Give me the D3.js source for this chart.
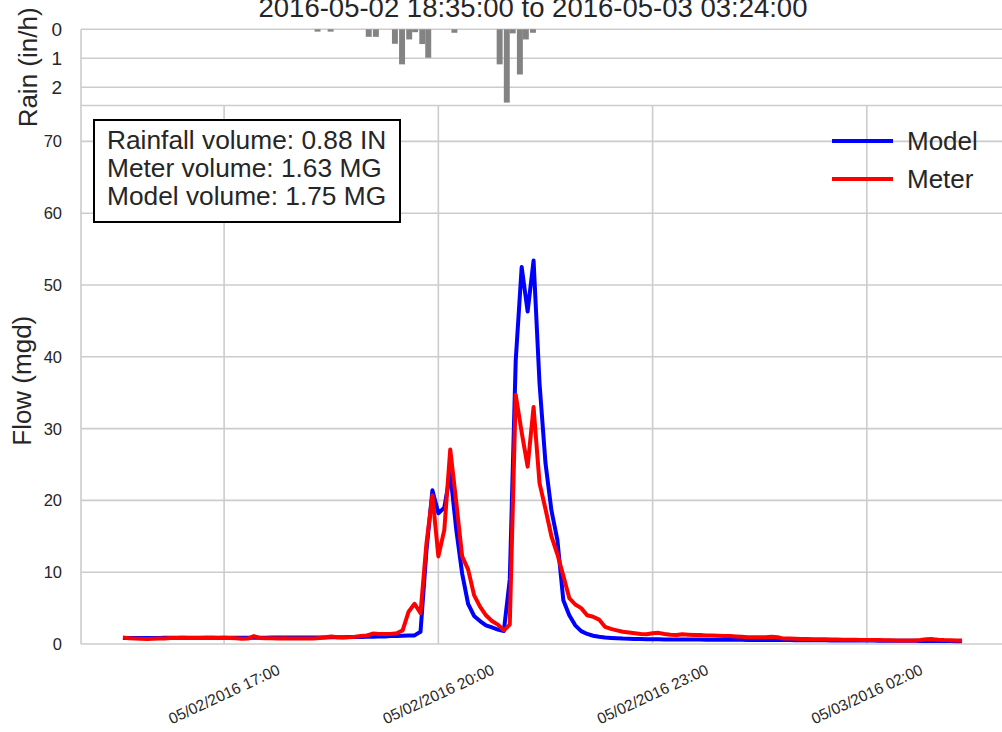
<!DOCTYPE html>
<html lang="en">
<head>
<meta charset="UTF-8">
<title>Flow and rainfall</title>
<script src="https://d3js.org/d3.v7.min.js"></script>
<style>
  body { margin: 0; background: #fff; }
  svg { display: block; font-family: "Liberation Sans", Arial, sans-serif; }
</style>
</head>
<body>
<svg width="1002" height="732"></svg>
<script>
const titleText = "2016-05-02 18:35:00 to 2016-05-03 03:24:00";

// flow samples every 5 minutes starting here
const seriesStart = "2016-05-02 15:35";
const stepMinutes = 5;

const modelFlow = [
  0.85, 0.85, 0.85, 0.85, 0.85, 0.85, 0.85, 0.86, 0.86, 0.86,
  0.86, 0.86, 0.87, 0.87, 0.87, 0.87, 0.87, 0.88, 0.88, 0.88,
  0.88, 0.88, 0.88, 0.88, 0.88, 0.89, 0.89, 0.89, 0.89, 0.9,
  0.9, 0.9, 0.9, 0.91, 0.92, 0.93, 0.94, 0.95, 0.96, 0.97,
  0.98, 1.0, 1.0, 1.05, 1.05, 1.1, 1.1, 1.15, 1.2, 1.2,
  1.7, 13, 21.4, 18.2, 19.0, 23.8, 16, 9.8, 5.6, 3.9,
  3.2, 2.6, 2.3, 2.0, 1.8, 9.0, 39.5, 52.5, 46.3, 53.4,
  36.3, 25.2, 18.6, 14.5, 6.1, 4.0, 2.6, 1.8, 1.4, 1.15,
  1.0, 0.9, 0.85, 0.8, 0.75, 0.72, 0.7, 0.68, 0.66, 0.65,
  0.65, 0.64, 0.64, 0.63, 0.63, 0.62, 0.62, 0.61, 0.6, 0.6,
  0.6, 0.59, 0.59, 0.58, 0.58, 0.57, 0.57, 0.56, 0.56, 0.55,
  0.55, 0.54, 0.54, 0.53, 0.53, 0.52, 0.52, 0.51, 0.51, 0.5,
  0.5, 0.5, 0.49, 0.49, 0.48, 0.48, 0.47, 0.47, 0.46, 0.46,
  0.45, 0.45, 0.44, 0.44, 0.43, 0.43, 0.42, 0.42, 0.41, 0.41,
  0.4, 0.4
];

const meterFlow = [
  0.9, 0.8, 0.75, 0.72, 0.7, 0.72, 0.75, 0.78, 0.82, 0.85,
  0.88, 0.85, 0.85, 0.85, 0.88, 0.88, 0.85, 0.88, 0.85, 0.8,
  0.72, 0.75, 1.1, 0.85, 0.8, 0.8, 0.78, 0.8, 0.78, 0.75,
  0.75, 0.75, 0.78, 0.85, 0.95, 1.05, 0.95, 0.9, 0.95, 1.0,
  1.1, 1.2, 1.45, 1.4, 1.4, 1.4, 1.5, 1.9, 4.5, 5.6,
  4.3, 14.0, 20.7, 12.2, 15.9, 27.1, 19.8, 12.2, 10.4, 6.8,
  5.2, 4.0, 3.2, 2.7, 1.9, 2.7, 34.7, 29.5, 24.7, 33.0,
  22.4, 18.8, 15.0, 12.5, 9.5, 6.4, 5.5, 5.0, 4.0, 3.8,
  3.4, 2.4, 2.1, 1.9, 1.7, 1.6, 1.5, 1.4, 1.35, 1.5,
  1.55, 1.4, 1.3, 1.25, 1.35, 1.3, 1.25, 1.25, 1.2, 1.2,
  1.15, 1.1, 1.1, 1.05, 1.0, 0.95, 0.93, 0.93, 0.95, 1.0,
  0.95, 0.75, 0.75, 0.72, 0.7, 0.68, 0.67, 0.65, 0.65, 0.63,
  0.62, 0.6, 0.6, 0.58, 0.57, 0.56, 0.55, 0.55, 0.53, 0.52,
  0.5, 0.5, 0.5, 0.5, 0.55, 0.65, 0.68, 0.6, 0.55, 0.52,
  0.5, 0.48
];

// rain bars (5 minute bins) on 2016-05-02
const rainTimes = ["18:16", "18:27", "18:59", "19:05", "19:21", "19:27", "19:33", "19:38",
  "19:44", "19:49", "20:11", "20:49", "20:55", "21:00", "21:06", "21:11", "21:17"];
const rainValues = [0.08, 0.08, 0.26, 0.26, 0.5, 1.21, 0.35, 0.1,
  0.51, 0.98, 0.12, 1.21, 2.53, 0.14, 1.56, 0.35, 0.12];
const rainBinMinutes = 5;

const flowTicks = [0, 10, 20, 30, 40, 50, 60, 70];
const rainTicks = [0, 1, 2];
const xTickTimes = ["2016-05-02 17:00", "2016-05-02 20:00", "2016-05-02 23:00", "2016-05-03 02:00"];

const boxLines = ["Rainfall volume: 0.88 IN", "Meter volume: 1.63 MG", "Model volume: 1.75 MG"];
const legendNames = ["Model", "Meter"];
const legendColors = ["#0000ff", "#ff0000"];

const svg = d3.select("svg");
const gridColor = "#cccccc";
const textColor = "#262626";

const parseTime = d3.utcParse("%Y-%m-%d %H:%M");
const t0 = parseTime(seriesStart);
const sampleTime = i => d3.utcMinute.offset(t0, i * stepMinutes);

const modelData = modelFlow.map((v, i) => ({ t: sampleTime(i), v }));
const meterData = meterFlow.map((v, i) => ({ t: sampleTime(i), v }));

// layout
const left = 81, right = 1004;
const rainTop = 29.3, mainTop = 105.5, mainBottom = 644;

// matplotlib style 5% margin on the time axis
const ext = d3.extent(modelData, d => d.t);
const pad = (ext[1] - ext[0]) * 0.05;
const x = d3.scaleUtc()
  .domain([new Date(+ext[0] - pad), new Date(+ext[1] + pad)])
  .range([left, right]);

const y = d3.scaleLinear().domain([0, 75]).range([mainBottom, mainTop]);
const yRain = d3.scaleLinear().domain([0, 2.63]).range([rainTop, mainTop]);

// title
svg.append("text")
  .attr("x", 533).attr("y", 17)
  .attr("text-anchor", "middle")
  .attr("font-size", 27.5)
  .attr("fill", textColor)
  .text(titleText);

// ---- rain panel ----
const rainG = svg.append("g");
rainG.selectAll("line.rgrid")
  .data(rainTicks)
  .join("line")
  .attr("x1", left).attr("x2", right)
  .attr("y1", d => yRain(d)).attr("y2", d => yRain(d))
  .attr("stroke", gridColor).attr("stroke-width", 1.6);

rainG.selectAll("text.rtick")
  .data(rainTicks)
  .join("text")
  .attr("x", 62).attr("y", d => yRain(d))
  .attr("text-anchor", "end")
  .attr("dominant-baseline", "central")
  .attr("font-size", 19)
  .attr("fill", textColor)
  .text(d => d);

rainG.selectAll("rect")
  .data(rainTimes)
  .join("rect")
  .attr("x", d => x(parseTime("2016-05-02 " + d)))
  .attr("width", d => {
    const s = parseTime("2016-05-02 " + d);
    return x(d3.utcMinute.offset(s, rainBinMinutes)) - x(s);
  })
  .attr("y", yRain(0))
  .attr("height", (d, i) => yRain(rainValues[i]) - yRain(0))
  .attr("fill", "#838383");

svg.append("text")
  .attr("transform", `translate(37,${(rainTop + mainTop) / 2}) rotate(-90)`)
  .attr("text-anchor", "middle")
  .attr("font-size", 26)
  .attr("fill", textColor)
  .text("Rain (in/h)");

// ---- main panel ----
const g = svg.append("g");

g.selectAll("line.ygrid")
  .data(flowTicks)
  .join("line")
  .attr("x1", left).attr("x2", right)
  .attr("y1", d => y(d)).attr("y2", d => y(d))
  .attr("stroke", gridColor).attr("stroke-width", 1.6);

const xTicks = xTickTimes.map(parseTime);
g.selectAll("line.xgrid")
  .data(xTicks)
  .join("line")
  .attr("x1", d => x(d)).attr("x2", d => x(d))
  .attr("y1", mainTop).attr("y2", mainBottom)
  .attr("stroke", gridColor).attr("stroke-width", 1.6);

// frame lines
svg.append("line")
  .attr("x1", left).attr("x2", left).attr("y1", rainTop).attr("y2", mainBottom)
  .attr("stroke", gridColor).attr("stroke-width", 1.6);
svg.append("line")
  .attr("x1", left).attr("x2", right).attr("y1", mainTop).attr("y2", mainTop)
  .attr("stroke", gridColor).attr("stroke-width", 1.6);

g.selectAll("text.ytick")
  .data(flowTicks)
  .join("text")
  .attr("x", 62).attr("y", d => y(d))
  .attr("text-anchor", "end")
  .attr("dominant-baseline", "central")
  .attr("font-size", 16.5)
  .attr("fill", textColor)
  .text(d => d);

const fmt = d3.utcFormat("%m/%d/%Y %H:%M");
g.selectAll("text.xtick")
  .data(xTicks)
  .join("text")
  .attr("transform", d => `translate(${x(d)},694) rotate(-25)`)
  .attr("text-anchor", "middle")
  .attr("dominant-baseline", "central")
  .attr("font-size", 15.5)
  .attr("fill", textColor)
  .text(d => fmt(d));

svg.append("text")
  .attr("transform", `translate(31,${(mainTop + mainBottom) / 2 + 6}) rotate(-90)`)
  .attr("text-anchor", "middle")
  .attr("font-size", 26)
  .attr("fill", textColor)
  .text("Flow (mgd)");

// lines
const line = d3.line().x(d => x(d.t)).y(d => y(d.v));
g.append("path").datum(modelData)
  .attr("d", line)
  .attr("fill", "none").attr("stroke", legendColors[0])
  .attr("stroke-width", 4).attr("stroke-linejoin", "round");
g.append("path").datum(meterData)
  .attr("d", line)
  .attr("fill", "none").attr("stroke", legendColors[1])
  .attr("stroke-width", 4).attr("stroke-linejoin", "round");

// legend
const leg = svg.append("g");
legendNames.forEach((name, i) => {
  const ly = 141 + i * 38;
  leg.append("line")
    .attr("x1", 832).attr("x2", 893).attr("y1", ly).attr("y2", ly)
    .attr("stroke", legendColors[i]).attr("stroke-width", 4);
  leg.append("text")
    .attr("x", 907).attr("y", ly)
    .attr("dominant-baseline", "central")
    .attr("font-size", 26)
    .attr("fill", textColor)
    .text(name);
});

// volume box
const box = svg.append("g");
box.append("rect")
  .attr("x", 94).attr("y", 120).attr("width", 306).attr("height", 102)
  .attr("fill", "#fff").attr("stroke", "#000").attr("stroke-width", 2);
box.selectAll("text")
  .data(boxLines)
  .join("text")
  .attr("x", 107).attr("y", (d, i) => 149 + i * 27.8)
  .attr("font-size", 26.3)
  .attr("fill", textColor)
  .text(d => d);
</script>
</body>
</html>
